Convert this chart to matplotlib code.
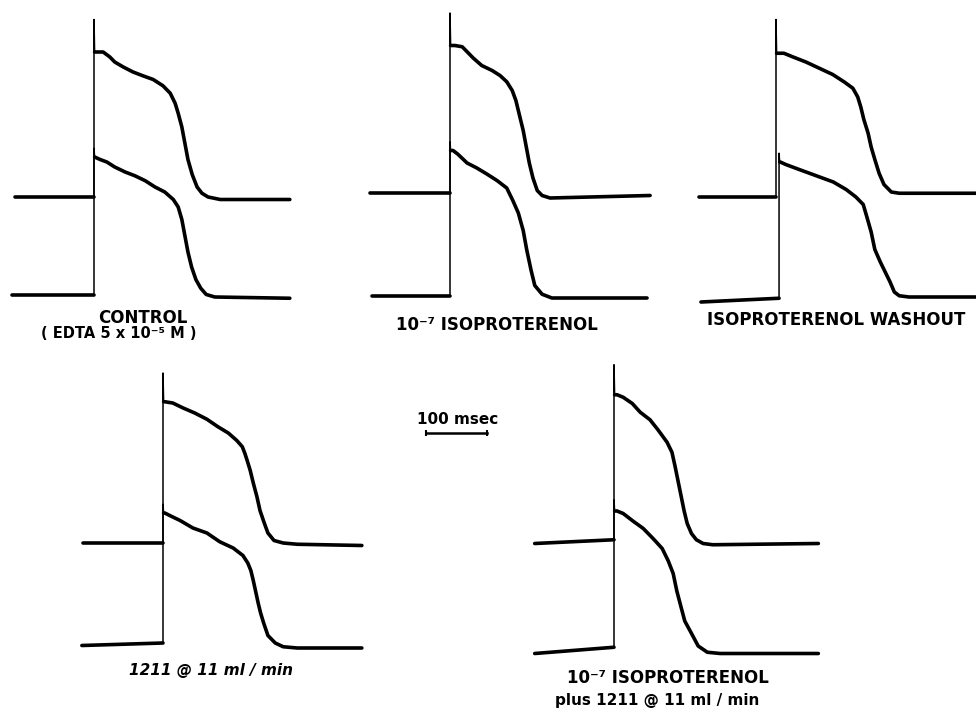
import matplotlib
matplotlib.use("Agg")
import matplotlib.pyplot as plt

# Transmembrane action potentials, two cells per condition.
# time in ms from the upstroke, voltage in mV (rest about -85 mV)
# each trace: baseline start, upstroke foot, spike tip, then plateau + repolarization

ctrl_up_t = [-130, 0, 0, 1, 5, 15, 26, 34, 48, 64, 80, 97, 113, 125, 133, 138, 144, 149, 154, 161, 169, 177, 187, 207, 321]
ctrl_up_v = [-85, -85, 57, 31, 31, 31, 27, 23, 19, 15, 12, 9, 4, -2, -10, -18, -29, -42, -55, -67, -77, -82, -85, -87, -87]
ctrl_lo_t = [-134, 0, 0, 1, 10, 21, 34, 51, 67, 84, 100, 116, 130, 138, 144, 149, 154, 160, 167, 175, 184, 198, 321]
ctrl_lo_v = [-85, -85, 32, 25, 23, 21, 17, 13, 10, 6, 1, -3, -9, -15, -25, -38, -51, -63, -73, -80, -85, -87, -88]

iso_up_t = [-131, 0, 0, 1, 8, 20, 28, 38, 52, 69, 82, 93, 102, 108, 113, 120, 125, 130, 136, 143, 151, 164, 328]
iso_up_v = [-85, -85, 59, 33, 33, 32, 28, 23, 17, 13, 9, 4, -3, -11, -21, -35, -48, -61, -73, -83, -87, -89, -87]
iso_lo_t = [-128, 0, 0, 1, 5, 13, 28, 44, 61, 77, 93, 103, 112, 120, 126, 133, 139, 151, 167, 323]
iso_lo_v = [-85, -85, 38, 31, 31, 28, 21, 17, 12, 7, 1, -9, -19, -33, -49, -65, -77, -84, -87, -87]

wash_up_t = [-126, 0, 0, 1, 3, 13, 28, 49, 71, 93, 112, 126, 134, 139, 144, 151, 156, 162, 169, 177, 189, 202, 330]
wash_up_v = [-85, -85, 57, 30, 30, 30, 27, 23, 18, 13, 7, 2, -5, -13, -23, -34, -45, -55, -66, -75, -81, -82, -82]
wash_lo_t = [-128, 0, 0, 1, 2, 11, 33, 61, 89, 110, 126, 138, 144, 151, 157, 166, 174, 182, 189, 197, 213, 325]
wash_lo_v = [-87, -84, 32, 25, 25, 23, 19, 14, 9, 3, -3, -9, -19, -31, -45, -55, -63, -71, -79, -82, -83, -83]

drug_up_t = [-131, 0, 0, 1, 3, 16, 33, 52, 72, 90, 107, 121, 130, 134, 138, 143, 148, 154, 159, 166, 172, 182, 197, 220, 326]
drug_up_v = [-85, -85, 51, 28, 28, 27, 23, 19, 14, 8, 3, -3, -8, -13, -19, -27, -37, -48, -59, -69, -77, -83, -85, -86, -87]
drug_lo_t = [-133, 0, 0, 1, 3, 11, 28, 49, 72, 93, 115, 131, 139, 144, 148, 152, 156, 160, 165, 172, 184, 197, 220, 326]
drug_lo_v = [-85, -83, 28, 21, 21, 19, 15, 9, 5, -2, -7, -13, -19, -25, -33, -42, -51, -59, -67, -77, -83, -86, -87, -87]

combo_up_t = [-130, 0, 0, 1, 5, 15, 30, 43, 59, 72, 87, 95, 100, 105, 110, 115, 120, 127, 135, 146, 162, 335]
combo_up_v = [-87, -84, 56, 32, 32, 30, 25, 18, 12, 4, -6, -14, -25, -37, -49, -61, -71, -79, -84, -87, -88, -87]
combo_lo_t = [-130, 0, 0, 1, 5, 15, 31, 48, 64, 79, 89, 97, 103, 110, 116, 126, 138, 153, 174, 335]
combo_lo_v = [-89, -84, 34, 25, 25, 23, 17, 11, 3, -5, -15, -25, -39, -52, -63, -72, -83, -88, -89, -89]

scale_ms = 100

# layout in reference pixels: upstroke x, upper baseline y, lower trace offset (mV), lower time shift (ms)
W, H = 976, 716
PX_PER_MS = 0.61
PX_PER_MV = 1.25

panels = [
    (ctrl_up_t, ctrl_up_v, ctrl_lo_t, ctrl_lo_v, 94, 197, 78, 0),
    (iso_up_t, iso_up_v, iso_lo_t, iso_lo_v, 450, 193, 82, 0),
    (wash_up_t, wash_up_v, wash_lo_t, wash_lo_v, 776, 197, 82, 5),
    (drug_up_t, drug_up_v, drug_lo_t, drug_lo_v, 163, 543, 82, 0),
    (combo_up_t, combo_up_v, combo_lo_t, combo_lo_v, 614, 541, 86, 0),
]

T0, T1 = -140, 345
V0, V1 = -215, 75

fig = plt.figure(figsize=(W / 100, H / 100), dpi=100)
fig.patch.set_facecolor("white")


def draw_trace(ax, t, v, shift=0, offset=0):
    t = [x + shift for x in t]
    v = [y - offset for y in v]
    kw = dict(color="black", solid_capstyle="round", solid_joinstyle="round")
    ax.plot(t[:2], v[:2], lw=2.6, **kw)      # resting baseline
    ax.plot(t[1:4], v[1:4], lw=1.1, **kw)    # fast upstroke + spike
    ax.plot(t[3:], v[3:], lw=2.6, **kw)      # plateau and repolarization


for up_t, up_v, lo_t, lo_v, xup, ybase, off, shift in panels:
    left = xup + T0 * PX_PER_MS
    width = (T1 - T0) * PX_PER_MS
    top = ybase - (V1 + 85) * PX_PER_MV
    height = (V1 - V0) * PX_PER_MV
    ax = fig.add_axes([left / W, 1 - (top + height) / H, width / W, height / H])
    ax.set_xlim(T0, T1)
    ax.set_ylim(V0, V1)
    ax.axis("off")
    draw_trace(ax, up_t, up_v)
    draw_trace(ax, lo_t, lo_v, shift=shift, offset=off)

# 100 msec calibration bar
bar_ax = fig.add_axes([426 / W, 1 - 438 / H, scale_ms * PX_PER_MS / W, 10 / H])
bar_ax.set_xlim(0, scale_ms)
bar_ax.set_ylim(-1, 1)
bar_ax.axis("off")
bar_ax.plot([0, scale_ms], [0, 0], color="black", lw=1.8, marker="|", ms=5, mew=1.5, clip_on=False)


def label(x, y, s, **kw):
    opts = dict(ha="center", va="center", fontsize=12, fontweight="bold", color="black")
    opts.update(kw)
    fig.text(x / W, 1 - y / H, s, **opts)


label(143, 318, "CONTROL")
label(119, 334, "( EDTA 5 x 10⁻⁵ M )", fontsize=10.5)
label(497, 325, "10⁻⁷ ISOPROTERENOL")
label(836, 320, "ISOPROTERENOL WASHOUT")
label(458, 420, "100 msec", fontsize=11)
label(211, 670, "1211 @ 11 ml / min", fontstyle="italic", fontsize=11)
label(668, 678, "10⁻⁷ ISOPROTERENOL")
label(657, 700, "plus 1211 @ 11 ml / min", fontsize=11)

fig.savefig("out.png", dpi=100, facecolor="white")
